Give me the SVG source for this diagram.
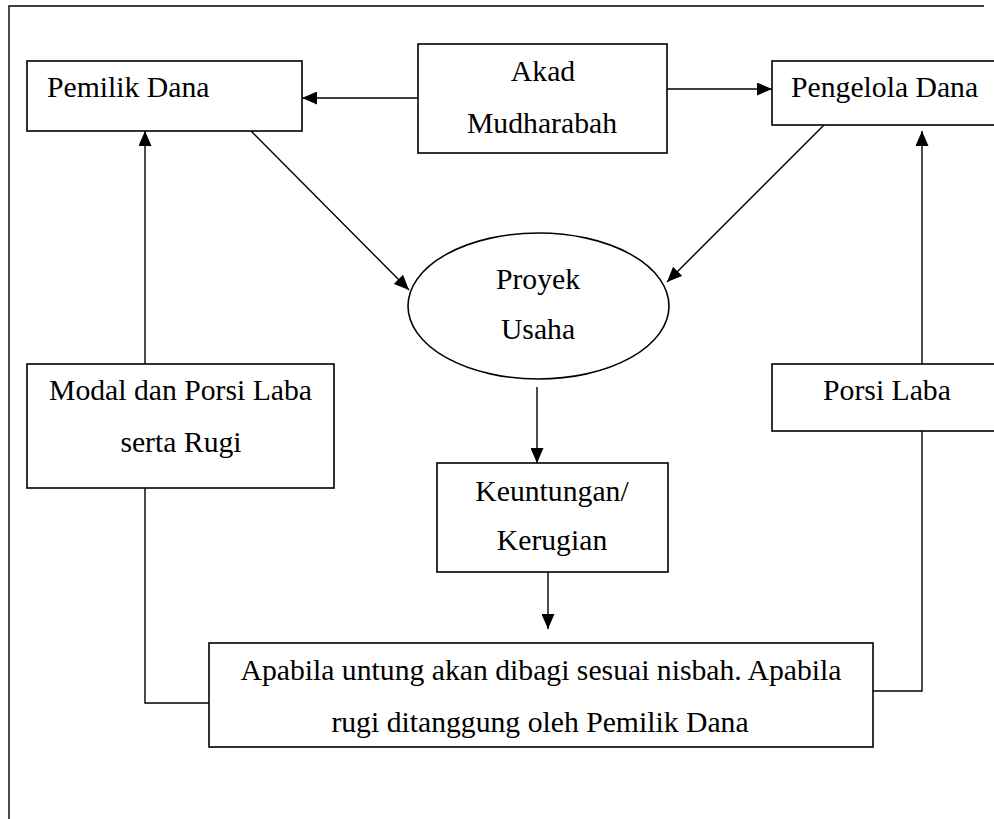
<svg xmlns="http://www.w3.org/2000/svg" width="994" height="819" viewBox="0 0 994 819">
<style>
.box{fill:#fff;stroke:#000;stroke-width:1.6}
.t{font-family:"Liberation Serif","Times New Roman",serif;font-size:29.7px;fill:#000}
.c{text-anchor:middle}
.ln{fill:none;stroke:#000;stroke-width:1.4}
</style>
<defs>
<marker id="ah" viewBox="0 0 15 13" refX="15" refY="6.5" markerWidth="15" markerHeight="13" orient="auto" markerUnits="userSpaceOnUse">
<path d="M0,0 L15,6.5 L0,13 z" fill="#000"/>
</marker>
</defs>
<rect width="994" height="819" fill="#fff"/>
<path d="M9,819 L9,6 L984,6" fill="none" stroke="#000" stroke-width="1.4"/>
<g id="connectors">
<path class="ln" d="M418,98 L302,98" marker-end="url(#ah)"/>
<path class="ln" d="M667,89 L772,89" marker-end="url(#ah)"/>
<path class="ln" d="M251,131 L409,290" marker-end="url(#ah)"/>
<path class="ln" d="M824,125 L667,282" marker-end="url(#ah)"/>
<path class="ln" d="M145,364 L145,131" marker-end="url(#ah)"/>
<path class="ln" d="M922,364 L922,131" marker-end="url(#ah)"/>
<path class="ln" d="M537,387 L537,463" marker-end="url(#ah)"/>
<path class="ln" d="M548,572 L548,629" marker-end="url(#ah)"/>
<path class="ln" d="M209,703 L145,703 L145,488"/>
<path class="ln" d="M873,691 L922,691 L922,431"/>
</g>
<g id="pemilik">
<rect class="box" x="27" y="61" width="275" height="70"/>
<text class="t" x="47" y="97">Pemilik Dana</text>
</g>
<g id="akad">
<rect class="box" x="418" y="44" width="249" height="109"/>
<text class="t c" x="543" y="81">Akad</text>
<text class="t c" x="542" y="133">Mudharabah</text>
</g>
<g id="pengelola">
<rect class="box" x="772" y="61" width="240" height="64"/>
<text class="t" x="791" y="97">Pengelola Dana</text>
</g>
<g id="proyek">
<ellipse class="box" cx="538.5" cy="306" rx="130.5" ry="73"/>
<text class="t c" x="538" y="289">Proyek</text>
<text class="t c" x="538" y="339">Usaha</text>
</g>
<g id="modal">
<rect class="box" x="27" y="364" width="307" height="124"/>
<text class="t c" x="180.5" y="400">Modal dan Porsi Laba</text>
<text class="t c" x="181" y="452">serta Rugi</text>
</g>
<g id="porsi">
<rect class="box" x="772" y="364" width="240" height="67"/>
<text class="t c" x="887" y="400">Porsi Laba</text>
</g>
<g id="keuntungan">
<rect class="box" x="437" y="463" width="231" height="109"/>
<text class="t c" x="552" y="501">Keuntungan/</text>
<text class="t c" x="552" y="550">Kerugian</text>
</g>
<g id="apabila">
<rect class="box" x="209" y="643" width="664" height="104"/>
<text class="t c" x="541" y="680">Apabila untung akan dibagi sesuai nisbah. Apabila</text>
<text class="t c" x="540" y="732">rugi ditanggung oleh Pemilik Dana</text>
</g>
</svg>
